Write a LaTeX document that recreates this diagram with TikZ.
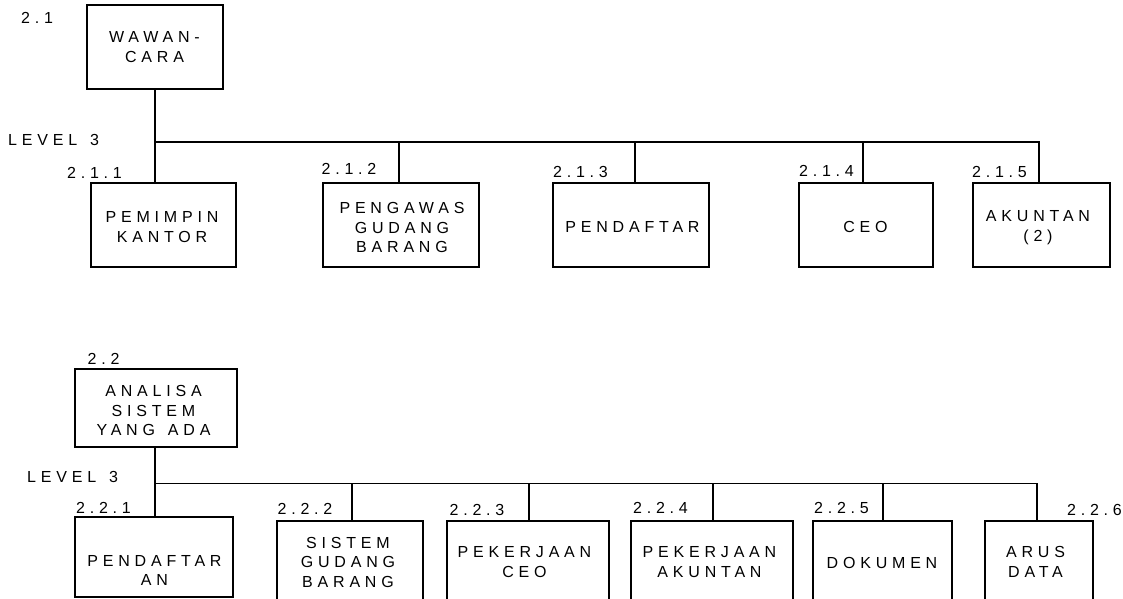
\documentclass[tikz,border=0pt]{standalone}
\usepackage{fontspec}
\newfontfamily\spfont{Liberation Sans}[LetterSpace=30,WordSpace=1.4]
\tikzset{
  box/.style={draw, line width=1.1pt, rectangle, inner sep=0pt},
  txt/.style={font=\spfont\fontsize{16}{19.5}\selectfont, align=center, inner sep=0pt},
  lbl/.style={font=\spfont\fontsize{16}{19}\selectfont, inner sep=0pt},
  conn/.style={line width=1.1pt}
}
\begin{document}
\begin{tikzpicture}[x=1pt,y=-1pt]
\useasboundingbox (0,0) rectangle (1123,598);
\clip (0,0) rectangle (1123,598);
% ---------- top tree ----------
\node[box, minimum width=136pt, minimum height=84pt] (b21) at (155,47) {};
\node[txt] (t21) at (154.5,47) {WAWAN-\\CARA};
\node[lbl] (l21) at (37,18) {2.1};
\node[lbl, anchor=west] (lv1) at (8,140) {LEVEL 3};

\node[box, minimum width=145pt, minimum height=84pt] (b211) at (163.5,225) {};
\node[txt] (t211) at (162,227) {PEMIMPIN\\KANTOR};
\node[lbl] (l211) at (94.5,173) {2.1.1};

\node[box, minimum width=156pt, minimum height=84pt] (b212) at (401,225) {};
\node[txt] (t212) at (402,227.5) {PENGAWAS\\GUDANG\\BARANG};
\node[lbl] (l212) at (349,169) {2.1.2};

\node[box, minimum width=156pt, minimum height=84pt] (b213) at (631,225) {};
\node[txt] (t213) at (632.5,227) {PENDAFTAR};
\node[lbl] (l213) at (580.5,172) {2.1.3};

\node[box, minimum width=134pt, minimum height=84pt] (b214) at (866,225) {};
\node[txt] (t214) at (865.5,227) {CEO};
\node[lbl] (l214) at (826.5,171) {2.1.4};

\node[box, minimum width=137pt, minimum height=84pt] (b215) at (1041.5,225) {};
\node[txt] (t215) at (1038,227.5) {AKUNTAN\\(2)};
\node[lbl] (l215) at (999.5,172) {2.1.5};

\coordinate (p11) at (155,142);
\coordinate (p12) at (399,142);
\coordinate (p13) at (635,142);
\coordinate (p14) at (863,142);
\coordinate (p15) at (1039,142);
\draw[conn] (b21.south) -- (p11) -- (p11 |- b211.north);
\draw[conn] (p11) -- (p15) -- (p15 |- b215.north);
\draw[conn] (p12) -- (p12 |- b212.north);
\draw[conn] (p13) -- (p13 |- b213.north);
\draw[conn] (p14) -- (p14 |- b214.north);

% ---------- bottom tree ----------
\node[box, minimum width=162pt, minimum height=78pt] (b22) at (156,408) {};
\node[txt] (t22) at (153.5,410.5) {ANALISA\\SISTEM\\YANG ADA};
\node[lbl] (l22) at (103.5,359) {2.2};
\node[lbl, anchor=west] (lv2) at (27,477) {LEVEL 3};

\node[box, minimum width=158pt, minimum height=80pt] (b221) at (154,557) {};
\node[txt] (t221) at (154.5,570.5) {PENDAFTAR\\AN};
\node[lbl] (l221) at (103.5,508) {2.2.1};

\node[box, minimum width=146pt, minimum height=90pt] (b222) at (350,566) {};
\node[txt] (t222) at (348,562) {SISTEM\\GUDANG\\BARANG};
\node[lbl] (l222) at (305,509) {2.2.2};

\node[box, minimum width=162pt, minimum height=90pt] (b223) at (528,566) {};
\node[txt] (t223) at (524.5,562) {PEKERJAAN\\CEO};
\node[lbl] (l223) at (477,510) {2.2.3};

\node[box, minimum width=162pt, minimum height=90pt] (b224) at (712,566) {};
\node[txt] (t224) at (709.5,562) {PEKERJAAN\\AKUNTAN};
\node[lbl] (l224) at (660.5,508) {2.2.4};

\node[box, minimum width=139pt, minimum height=90pt] (b225) at (882.5,566) {};
\node[txt] (t225) at (882,563) {DOKUMEN};
\node[lbl] (l225) at (841.5,508) {2.2.5};

\node[box, minimum width=108pt, minimum height=90pt] (b226) at (1039,566) {};
\node[txt] (t226) at (1035.5,562) {ARUS\\DATA};
\node[lbl] (l226) at (1094.5,510) {2.2.6};

\coordinate (q1) at (155,483.5);
\coordinate (q2) at (352,483.5);
\coordinate (q3) at (529,483.5);
\coordinate (q4) at (713,483.5);
\coordinate (q5) at (883,483.5);
\coordinate (q6) at (1037,483.5);
\draw[conn] (b22.south -| q1) -- (q1) -- (q1 |- b221.north);
\draw[conn] (q1) -- (q6) -- (q6 |- b226.north);
\draw[conn] (q2) -- (q2 |- b222.north);
\draw[conn] (q3) -- (q3 |- b223.north);
\draw[conn] (q4) -- (q4 |- b224.north);
\draw[conn] (q5) -- (q5 |- b225.north);
\end{tikzpicture}
\end{document}
